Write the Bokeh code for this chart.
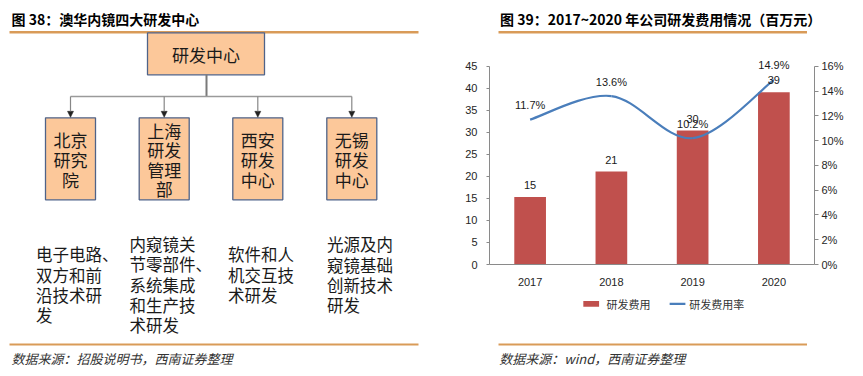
import numpy as np
from bokeh.plotting import figure
from bokeh.layouts import row, column
from bokeh.models import (Range1d, FactorRange, LinearAxis, FixedTicker, NumeralTickFormatter,
                          ColumnDataSource, LabelSet, Arrow, NormalHead)
from bokeh.core.properties import value
from bokeh.embed import file_html
from bokeh.resources import INLINE

# ---------------- data ----------------
years = ["2017", "2018", "2019", "2020"]
rd_expense = [15.3, 21.1, 30.4, 39.1]          # 百万元
rd_rate = [0.117, 0.136, 0.102, 0.149]         # 研发费用率
left_ticks = [0, 5, 10, 15, 20, 25, 30, 35, 40, 45]
right_ticks = [0, 0.02, 0.04, 0.06, 0.08, 0.10, 0.12, 0.14, 0.16]
legend_labels = ["研发费用", "研发费用率"]

title_left = "图 38：澳华内镜四大研发中心"
title_right = "图 39：2017~2020 年公司研发费用情况（百万元）"
source_left = "数据来源：招股说明书，西南证券整理"
source_right = "数据来源：wind，西南证券整理"

org_root = "研发中心"
org_centers = [["北京", "研究", "院"], ["上海", "研发", "管理", "部"],
               ["西安", "研发", "中心"], ["无锡", "研发", "中心"]]
org_desc = [["电子电路、", "双方和前", "沿技术研", "发"],
            ["内窥镜关", "节零部件、", "系统集成", "和生产技", "术研发"],
            ["软件和人", "机交互技", "术研发"],
            ["光源及内", "窥镜基础", "创新技术", "研发"]]

# ---------------- styles ----------------
ORANGE = "#D99B58"
BOX_FILL = "#FCC89A"
BOX_LINE = "#4F6389"
CONN = "#878787"
BAR = "#C0504D"
LINE = "#4A7EBB"
AX = "#8A8A8A"
CJK = "Noto Sans CJK SC"
LAT = "Liberation Sans"

# axis extents: visible axes run 0..45 / 0..16%, frame has a little headroom for labels
Y_MAX = left_ticks[-1]
HEAD = 47.0
P_MAX = right_ticks[-1] * HEAD / Y_MAX


def canvas(w, h):
    f = figure(width=w, height=h, x_range=Range1d(0, w), y_range=Range1d(h, 0),
               output_backend="svg", toolbar_location=None, min_border=0,
               x_axis_location=None, y_axis_location=None)
    f.grid.visible = False
    f.outline_line_color = None
    return f


def txt(f, x, y, s, size, align="left", style="normal", color="#1a1a1a", font=CJK):
    f.text(x=x, y=y, text=s, text_font=value(font), text_font_size=size,
           text_font_style=style, text_align=align, text_baseline="middle",
           text_color=color)


# ---------------- left panel: org chart ----------------
L = canvas(430, 376)
txt(L, [11], [18.5], [title_left], "14px", style="bold", color="#000000")
L.segment(x0=[9], y0=[31.7], x1=[418], y1=[31.7], line_color=ORANGE, line_width=2.5)

# root box
L.quad(left=[147], right=[264], top=[32.3], bottom=[74.3],
       fill_color=BOX_FILL, line_color=BOX_LINE, line_width=1.3)
txt(L, [205.5], [53.5], [org_root], "17px", align="center")

# connectors
child_left = [45, 138.7, 232.3, 326.3]
child_w = 50
child_cx = [l + child_w / 2 for l in child_left]
L.segment(x0=[206], y0=[74.3], x1=[206], y1=[96], line_color="#7a7a7a", line_width=2)
L.segment(x0=[child_cx[0]], y0=[96], x1=[child_cx[-1]], y1=[96], line_color="#9a9a9a", line_width=1.5)
for cx in child_cx:
    L.add_layout(Arrow(end=NormalHead(size=6, fill_color="#222222", line_color="#222222", line_width=0.5),
                       x_start=cx, y_start=96, x_end=cx, y_end=116.8,
                       line_color=CONN, line_width=1.2))

# child boxes
L.quad(left=child_left, right=[l + child_w for l in child_left],
       top=[117.3] * 4, bottom=[199.3] * 4,
       fill_color=BOX_FILL, line_color=BOX_LINE, line_width=1.3)
bx, by, bt = [], [], []
for cx, lines in zip(child_cx, org_centers):
    n = len(lines)
    for i, s in enumerate(lines):
        bx.append(cx)
        by.append(159 + (i - (n - 1) / 2) * 19.6)
        bt.append(s)
txt(L, bx, by, bt, "17px", align="center")

# descriptions
desc_x = [35.5, 129, 227.5, 326.5]
desc_y0 = [253.6, 243.2, 253.6, 243.6]
dx, dy, dt = [], [], []
for x0, y0, lines in zip(desc_x, desc_y0, org_desc):
    for i, s in enumerate(lines):
        dx.append(x0)
        dy.append(y0 + i * 20.4)
        dt.append(s)
txt(L, dx, dy, dt, "16.5px")

L.segment(x0=[9], y0=[344], x1=[418], y1=[344], line_color=ORANGE, line_width=2)
txt(L, [11], [357.5], [source_left], "13px", style="italic", color="#333333")

# ---------------- right panel ----------------
H = canvas(433, 44)
txt(H, [14], [18.5], [title_right], "14px", style="bold", color="#000000")
H.segment(x0=[12], y0=[31.7], x1=[423], y1=[31.7], line_color=ORANGE, line_width=2.5)

C = figure(width=433, height=246, x_range=FactorRange(factors=years, range_padding=0),
           y_range=Range1d(0, HEAD), output_backend="svg", toolbar_location=None,
           min_border_left=59, min_border_right=49, min_border_top=13, min_border_bottom=26)
C.extra_y_ranges = {"pct": Range1d(0, P_MAX)}
C.grid.visible = False
C.outline_line_color = None

bars = C.vbar(x=years, top=rd_expense, width=0.39, fill_color=BAR, line_color=None)

# smoothed rate curve (cubic Bezier segments through the data points)
xs = np.arange(len(years)) + 0.5
ys = np.array(rd_rate)
pts = np.column_stack([xs, ys])
ext = np.vstack([pts[0], pts, pts[-1]])
seg = dict(x0=[], y0=[], x1=[], y1=[], cx0=[], cy0=[], cx1=[], cy1=[])
for i in range(len(pts) - 1):
    p0, p1, p2, p3 = ext[i], ext[i + 1], ext[i + 2], ext[i + 3]
    c1 = p1 + (p2 - p0) / 6
    c2 = p2 - (p3 - p1) / 6
    for k, v in zip(["x0", "y0", "x1", "y1", "cx0", "cy0", "cx1", "cy1"],
                    [p1[0], p1[1], p2[0], p2[1], c1[0], c1[1], c2[0], c2[1]]):
        seg[k].append(float(v))
curve = C.bezier(source=ColumnDataSource(seg), x0="x0", y0="y0", x1="x1", y1="y1",
                 cx0="cx0", cy0="cy0", cx1="cx1", cy1="cy1",
                 line_color=LINE, line_width=2.2, y_range_name="pct")

# data labels
bar_src = ColumnDataSource(dict(x=years, y=rd_expense, t=[f"{v:.0f}" for v in rd_expense]))
C.add_layout(LabelSet(x="x", y="y", text="t", source=bar_src, y_offset=12,
                      text_align="center", text_baseline="middle",
                      text_font=value(LAT), text_font_size="11px", text_color="#1a1a1a"))
rate_src = ColumnDataSource(dict(x=years, y=rd_rate, t=[f"{v * 100:.1f}%" for v in rd_rate]))
C.add_layout(LabelSet(x="x", y="y", text="t", source=rate_src, y_offset=14.5,
                      y_range_name="pct", text_align="center", text_baseline="middle",
                      text_font=value(LAT), text_font_size="11px", text_color="#1a1a1a"))

# axes
xa = C.xaxis[0]
xa.axis_line_color = AX
xa.major_tick_line_color = None
xa.minor_tick_line_color = None
xa.major_label_standoff = 7
xa.major_label_text_font = LAT
xa.major_label_text_font_size = "11px"
xa.major_label_text_color = "#262626"

ya = C.yaxis[0]
ya.ticker = FixedTicker(ticks=left_ticks)
ya.bounds = (0, Y_MAX)
ya.axis_line_color = AX
ya.major_tick_line_color = AX
ya.major_tick_out = 3
ya.major_tick_in = 0
ya.minor_tick_line_color = None
ya.major_label_standoff = 9
ya.major_label_text_font = LAT
ya.major_label_text_font_size = "11px"
ya.major_label_text_color = "#262626"

ra = LinearAxis(y_range_name="pct", ticker=FixedTicker(ticks=right_ticks),
                formatter=NumeralTickFormatter(format="0%"), bounds=(0, right_ticks[-1]))
ra.axis_line_color = AX
ra.major_tick_line_color = AX
ra.major_tick_out = 4
ra.major_tick_in = 0
ra.minor_tick_line_color = None
ra.major_label_standoff = 3
ra.major_label_text_font = LAT
ra.major_label_text_font_size = "11px"
ra.major_label_text_color = "#262626"
C.add_layout(ra, "right")

# footer: legend keys, separator and source
F = canvas(433, 86)
F.quad(left=[125], right=[146], top=[10.5], bottom=[16.2], fill_color=BAR, line_color=None)
F.segment(x0=[240], y0=[13.3], x1=[261], y1=[13.3], line_color=LINE, line_width=2.2)
txt(F, [156, 266], [13.3, 13.3], legend_labels, "11px", color="#333333")
F.segment(x0=[12], y0=[54], x1=[423], y1=[54], line_color=ORANGE, line_width=2)
txt(F, [13], [67.5], [source_right], "13px", style="italic", color="#333333")

layout = row(L, column(H, C, F, spacing=0), spacing=0)

open("out.html", "w").write(file_html(layout, INLINE))
